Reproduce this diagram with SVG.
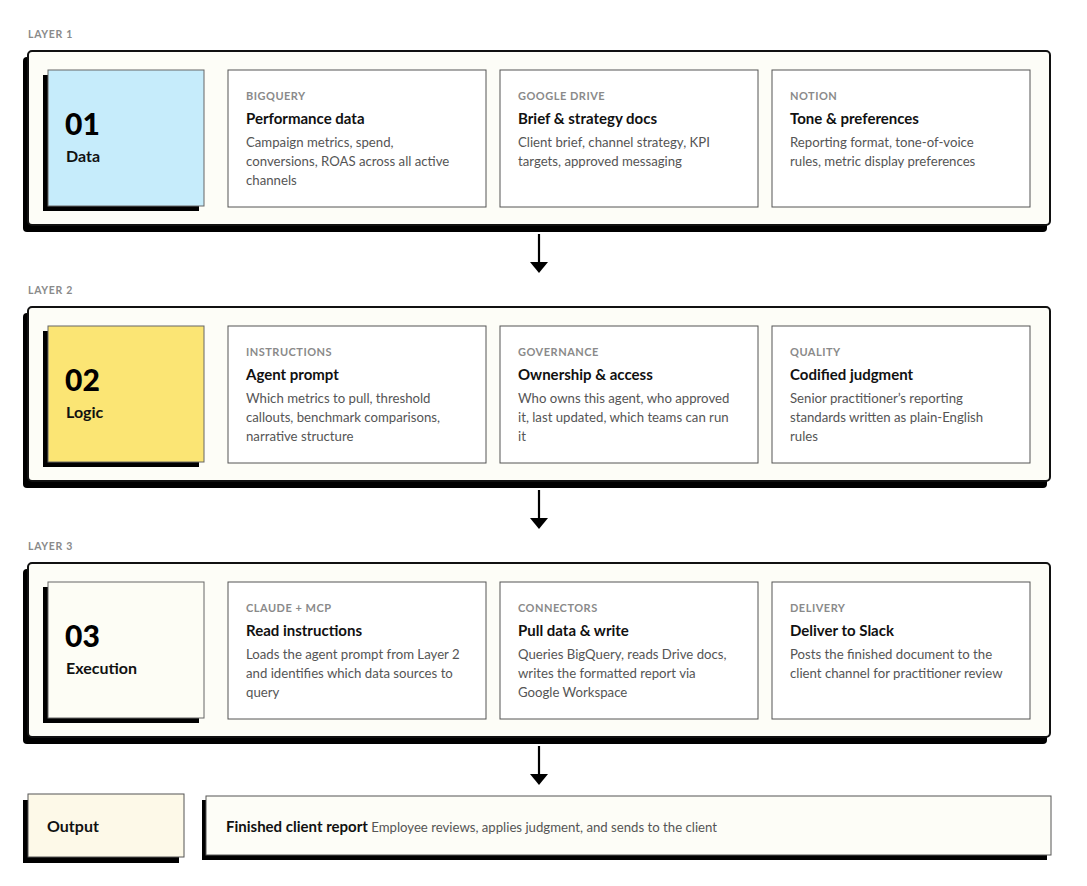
<svg xmlns="http://www.w3.org/2000/svg" width="1087" height="886" viewBox="0 0 1087 886">
<style>
.bg{fill:#ffffff}
.shadow{fill:#000}
.outer{fill:#fdfdf7;stroke:#111;stroke-width:2}
.inner{stroke:#666;stroke-width:1}
.card{fill:#fff;stroke:#555;stroke-width:1}
.layer{font-family:Lato,"Liberation Sans",sans-serif;font-size:10.5px;font-weight:700;fill:#8a8a8a;letter-spacing:0.7px}
.num{font-family:Lato,"Liberation Sans",sans-serif;font-size:30px;font-weight:900;fill:#000}
.name{font-family:Lato,"Liberation Sans",sans-serif;font-size:16px;font-weight:700;fill:#111}
.cat{font-family:Lato,"Liberation Sans",sans-serif;font-size:11px;font-weight:700;fill:#8a8a8a;letter-spacing:0.5px}
.title{font-family:Lato,"Liberation Sans",sans-serif;font-size:15px;font-weight:700;fill:#111}
.body{font-family:Lato,"Liberation Sans",sans-serif;font-size:13.2px;fill:#555}
.conn{stroke:#000;stroke-width:2.2;fill:none}
.head{fill:#000}
</style>
<rect class="bg" x="0" y="0" width="1087" height="886"/>

<!-- Layer 1 -->
<g id="layer1">
<text class="layer" x="28" y="38">LAYER 1</text>
<rect class="shadow" x="23" y="57" width="1024" height="175" rx="4"/>
<rect class="outer" x="28" y="51" width="1022" height="174" rx="4"/>
<g id="data">
<rect class="shadow" x="43" y="75" width="156" height="136"/>
<rect class="inner" x="48" y="70" width="156" height="136" fill="#c6ecfb"/>
<text class="num" x="65" y="135">01</text>
<text class="name" x="66" y="162">Data</text>
</g>
<g id="bigquery">
<rect class="card" x="228" y="70" width="258" height="137"/>
<text class="cat" x="246" y="100">BIGQUERY</text>
<text class="title" x="246" y="124">Performance data</text>
<text class="body" x="246" y="147">Campaign metrics, spend,</text>
<text class="body" x="246" y="166">conversions, ROAS across all active</text>
<text class="body" x="246" y="185">channels</text>
</g>
<g id="drive">
<rect class="card" x="500" y="70" width="258" height="137"/>
<text class="cat" x="518" y="100">GOOGLE DRIVE</text>
<text class="title" x="518" y="124">Brief &amp; strategy docs</text>
<text class="body" x="518" y="147">Client brief, channel strategy, KPI</text>
<text class="body" x="518" y="166">targets, approved messaging</text>
</g>
<g id="notion">
<rect class="card" x="772" y="70" width="258" height="137"/>
<text class="cat" x="790" y="100">NOTION</text>
<text class="title" x="790" y="124">Tone &amp; preferences</text>
<text class="body" x="790" y="147">Reporting format, tone-of-voice</text>
<text class="body" x="790" y="166">rules, metric display preferences</text>
</g>
</g>

<!-- Layer 2 -->
<g id="layer2">
<text class="layer" x="28" y="294">LAYER 2</text>
<rect class="shadow" x="23" y="313" width="1024" height="175" rx="4"/>
<rect class="outer" x="28" y="307" width="1022" height="174" rx="4"/>
<g id="logic">
<rect class="shadow" x="43" y="331" width="156" height="136"/>
<rect class="inner" x="48" y="326" width="156" height="136" fill="#fbe574"/>
<text class="num" x="65" y="391">02</text>
<text class="name" x="66" y="418">Logic</text>
</g>
<g id="instructions">
<rect class="card" x="228" y="326" width="258" height="137"/>
<text class="cat" x="246" y="356">INSTRUCTIONS</text>
<text class="title" x="246" y="380">Agent prompt</text>
<text class="body" x="246" y="403">Which metrics to pull, threshold</text>
<text class="body" x="246" y="422">callouts, benchmark comparisons,</text>
<text class="body" x="246" y="441">narrative structure</text>
</g>
<g id="governance">
<rect class="card" x="500" y="326" width="258" height="137"/>
<text class="cat" x="518" y="356">GOVERNANCE</text>
<text class="title" x="518" y="380">Ownership &amp; access</text>
<text class="body" x="518" y="403">Who owns this agent, who approved</text>
<text class="body" x="518" y="422">it, last updated, which teams can run</text>
<text class="body" x="518" y="441">it</text>
</g>
<g id="quality">
<rect class="card" x="772" y="326" width="258" height="137"/>
<text class="cat" x="790" y="356">QUALITY</text>
<text class="title" x="790" y="380">Codified judgment</text>
<text class="body" x="790" y="403">Senior practitioner’s reporting</text>
<text class="body" x="790" y="422">standards written as plain-English</text>
<text class="body" x="790" y="441">rules</text>
</g>
</g>

<!-- Layer 3 -->
<g id="layer3">
<text class="layer" x="28" y="550">LAYER 3</text>
<rect class="shadow" x="23" y="569" width="1024" height="175" rx="4"/>
<rect class="outer" x="28" y="563" width="1022" height="174" rx="4"/>
<g id="execution">
<rect class="shadow" x="43" y="587" width="156" height="136"/>
<rect class="inner" x="48" y="582" width="156" height="136" fill="#fdfdf5"/>
<text class="num" x="65" y="647">03</text>
<text class="name" x="66" y="674">Execution</text>
</g>
<g id="claude">
<rect class="card" x="228" y="582" width="258" height="137"/>
<text class="cat" x="246" y="612">CLAUDE + MCP</text>
<text class="title" x="246" y="636">Read instructions</text>
<text class="body" x="246" y="659">Loads the agent prompt from Layer 2</text>
<text class="body" x="246" y="678">and identifies which data sources to</text>
<text class="body" x="246" y="697">query</text>
</g>
<g id="connectors">
<rect class="card" x="500" y="582" width="258" height="137"/>
<text class="cat" x="518" y="612">CONNECTORS</text>
<text class="title" x="518" y="636">Pull data &amp; write</text>
<text class="body" x="518" y="659">Queries BigQuery, reads Drive docs,</text>
<text class="body" x="518" y="678">writes the formatted report via</text>
<text class="body" x="518" y="697">Google Workspace</text>
</g>
<g id="delivery">
<rect class="card" x="772" y="582" width="258" height="137"/>
<text class="cat" x="790" y="612">DELIVERY</text>
<text class="title" x="790" y="636">Deliver to Slack</text>
<text class="body" x="790" y="659">Posts the finished document to the</text>
<text class="body" x="790" y="678">client channel for practitioner review</text>
</g>
</g>

<!-- Output -->
<g id="output">
<rect class="shadow" x="23" y="800" width="156" height="63"/>
<rect x="28" y="794" width="156" height="63" fill="#fdf9e8" stroke="#555" stroke-width="1"/>
<text class="name" x="47" y="832">Output</text>
</g>
<g id="report">
<rect class="shadow" x="202" y="800" width="845" height="60"/>
<rect x="206" y="796" width="845" height="59" fill="#fdfdf7" stroke="#555" stroke-width="1"/>
<text x="226" y="832" font-family="Lato,'Liberation Sans',sans-serif"><tspan font-size="15" font-weight="700" fill="#111">Finished client report</tspan><tspan font-size="13.2" fill="#555"> Employee reviews, applies judgment, and sends to the client</tspan></text>
</g>

<!-- Connectors -->
<g id="connectors-lines">
<line class="conn" x1="539" y1="234" x2="539" y2="264"/>
<polygon class="head" points="530,262 548,262 539,273"/>
<line class="conn" x1="539" y1="490" x2="539" y2="520"/>
<polygon class="head" points="530,518 548,518 539,529"/>
<line class="conn" x1="539" y1="746" x2="539" y2="776"/>
<polygon class="head" points="530,774 548,774 539,785"/>
</g>
</svg>
